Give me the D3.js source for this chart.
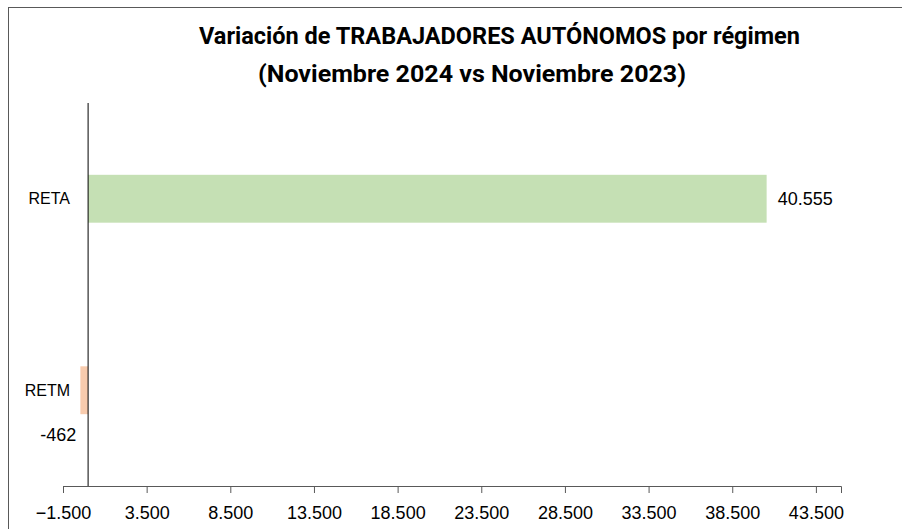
<!DOCTYPE html>
<html>
<head>
<meta charset="utf-8">
<script src="https://cdn.jsdelivr.net/npm/d3@7"></script>
<style>
  body { margin: 0; background: #fff; }
</style>
</head>
<body>
<div id="chart"></div>
<script>
var svgWidth = 902;
var svgHeight = 529;

// data
var categories = ["RETA", "RETM"];
var values = [40555, -462];
var valueLabels = ["40.555", "-462"];
var barColors = ["#c5e0b4", "#f8cbad"];
var tickValues = [-1500, 3500, 8500, 13500, 18500, 23500, 28500, 33500, 38500, 43500];
var titleLines = ["Variación de TRABAJADORES AUTÓNOMOS por régimen", "(Noviembre 2024 vs Noviembre 2023)"];

var margin = { top: 103, right: 61, bottom: 43, left: 63 };
var width = svgWidth - margin.left - margin.right;
var height = svgHeight - margin.top - margin.bottom;

var svg = d3.select("#chart")
  .append("svg")
  .attr("width", svgWidth)
  .attr("height", svgHeight);

// frame (left and top edges visible)
svg.append("rect")
  .attr("x", 8.5)
  .attr("y", 7.5)
  .attr("width", 910)
  .attr("height", 540)
  .attr("fill", "none")
  .attr("stroke", "#595959")
  .attr("stroke-width", 1);

// title
svg.append("text")
  .attr("x", 199)
  .attr("y", 44)
  .attr("textLength", 601)
  .attr("lengthAdjust", "spacingAndGlyphs")
  .style("font-family", "Roboto, sans-serif")
  .style("font-weight", "bold")
  .style("font-size", "24px")
  .attr("fill", "#000")
  .text(titleLines[0]);

svg.append("text")
  .attr("x", 258)
  .attr("y", 82)
  .attr("textLength", 428)
  .attr("lengthAdjust", "spacingAndGlyphs")
  .style("font-family", "Roboto, sans-serif")
  .style("font-weight", "bold")
  .style("font-size", "24px")
  .attr("fill", "#000")
  .text(titleLines[1]);

var chartGroup = svg.append("g")
  .attr("transform", `translate(${margin.left}, ${margin.top})`);

// scales
var xScale = d3.scaleLinear()
  .domain([-1500, 45000])
  .range([0, width]);

var yScale = d3.scaleBand()
  .domain(categories)
  .range([0, height])
  .paddingInner(0.75)
  .paddingOuter(0.375);

// bottom axis
var bottomAxis = d3.axisBottom(xScale)
  .tickValues(tickValues)
  .tickSizeOuter(0)
  .tickSize(7)
  .tickPadding(13)
  .tickFormat(d => d3.format(",")(d).replace(/,/g, "."));

var xAxisG = chartGroup.append("g")
  .attr("transform", `translate(0, ${height})`)
  .call(bottomAxis);

xAxisG.select(".domain").attr("stroke", "#595959");
xAxisG.selectAll(".tick line").attr("stroke", "#595959");
xAxisG.selectAll(".tick text")
  .attr("fill", "#000")
  .style("font-family", "'Liberation Sans', Arial, sans-serif")
  .style("font-size", "18px");

// bars
chartGroup.selectAll("rect.bar")
  .data(categories)
  .enter()
  .append("rect")
  .attr("class", "bar")
  .attr("x", (d, i) => xScale(Math.min(0, values[i])))
  .attr("y", d => yScale(d))
  .attr("width", (d, i) => Math.abs(xScale(values[i]) - xScale(0)))
  .attr("height", yScale.bandwidth())
  .attr("fill", (d, i) => barColors[i]);

// vertical zero line
chartGroup.append("line")
  .attr("x1", xScale(0))
  .attr("x2", xScale(0))
  .attr("y1", 0)
  .attr("y2", height)
  .attr("stroke", "#000")
  .attr("stroke-width", 1);

// category labels
chartGroup.selectAll("text.cat")
  .data(categories)
  .enter()
  .append("text")
  .attr("class", "cat")
  .attr("x", -(margin.left - 70))
  .attr("y", d => yScale(d) + yScale.bandwidth() / 2)
  .attr("text-anchor", "end")
  .attr("dy", "0.35em")
  .style("font-family", "'Liberation Sans', Arial, sans-serif")
  .style("font-size", "16px")
  .text(d => d);

// value labels
chartGroup.selectAll("text.val")
  .data(categories)
  .enter()
  .append("text")
  .attr("class", "val")
  .attr("x", (d, i) => values[i] >= 0 ? xScale(values[i]) + 11 : xScale(values[i]) - 4)
  .attr("y", (d, i) => values[i] >= 0
    ? yScale(d) + yScale.bandwidth() / 2
    : yScale(d) + yScale.bandwidth() + 21)
  .attr("text-anchor", (d, i) => values[i] >= 0 ? "start" : "end")
  .attr("dy", "0.35em")
  .style("font-family", "'Liberation Sans', Arial, sans-serif")
  .style("font-size", "18px")
  .text((d, i) => valueLabels[i]);
</script>
</body>
</html>
